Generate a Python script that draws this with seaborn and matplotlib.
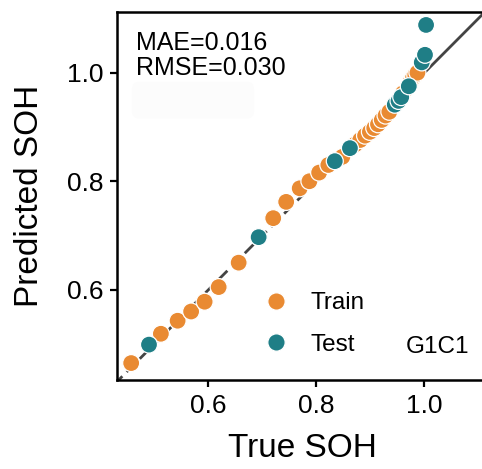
import numpy as np
import pandas as pd
import matplotlib
matplotlib.use("Agg")
import matplotlib.pyplot as plt
from matplotlib.patches import FancyBboxPatch
import seaborn as sns

# True vs. predicted state of health for cell G1C1
train_true = [0.457, 0.512, 0.543, 0.568, 0.593, 0.619, 0.656, 0.720, 0.744, 0.769,
              0.787, 0.805, 0.822, 0.848, 0.872, 0.881, 0.890, 0.899, 0.907, 0.914,
              0.921, 0.928, 0.935, 0.960, 0.975, 0.979, 0.983, 0.987]
train_pred = [0.465, 0.519, 0.543, 0.560, 0.578, 0.605, 0.650, 0.732, 0.762, 0.787,
              0.800, 0.816, 0.830, 0.845, 0.868, 0.876, 0.884, 0.891, 0.898, 0.905,
              0.913, 0.921, 0.928, 0.962, 0.985, 0.991, 0.996, 1.000]
test_true = [0.490, 0.693, 0.834, 0.862, 0.945, 0.952, 0.957, 0.971, 0.995, 1.001, 1.003]
test_pred = [0.499, 0.697, 0.837, 0.861, 0.941, 0.948, 0.955, 0.975, 1.019, 1.033, 1.088]

mae_text = "MAE=0.016"
rmse_text = "RMSE=0.030"
cell_name = "G1C1"
x_ticks = [0.6, 0.8, 1.0]
y_ticks = [0.6, 0.8, 1.0]

df = pd.DataFrame({
    "true": train_true + test_true,
    "pred": train_pred + test_pred,
    "set": ["Train"] * len(train_true) + ["Test"] * len(test_true),
})

sns.set_style("ticks")
plt.rcParams["font.family"] = ["Liberation Sans", "DejaVu Sans"]
plt.rcParams["text.color"] = "black"
plt.rcParams["axes.labelcolor"] = "black"

fig = plt.figure(figsize=(4.82, 4.69), dpi=100)
ax = fig.add_axes([0.243, 0.19, 0.7676, 0.7846])

xlim = (0.431, 1.116)
ylim = (0.434, 1.112)

# identity reference line
ax.plot([0.40, 1.0], [0.40, 1.0], ls=(0, (4.5, 2.2)), color="#444444", lw=2, zorder=1)
ax.plot([1.0, 1.2], [1.0, 1.2], ls="-", color="#444444", lw=2, zorder=1)

palette = {"Train": "#E98A32", "Test": "#1F7E86"}
sns.scatterplot(data=df, x="true", y="pred", hue="set", palette=palette,
                s=150, edgecolor="white", linewidth=0.9, ax=ax, zorder=3)

ax.set_xlim(*xlim)
ax.set_ylim(*ylim)
ax.set_xticks(x_ticks)
ax.set_yticks(y_ticks)
ax.set_xticklabels([f"{t:.1f}" for t in x_ticks])
ax.set_yticklabels([f"{t:.1f}" for t in y_ticks])
ax.tick_params(labelsize=19, width=1.6, length=5, pad=5, color="black",
               labelcolor="black")
ax.set_xlabel("True SOH", fontsize=24, labelpad=11)
ax.set_ylabel("Predicted SOH", fontsize=24, labelpad=16)
for sp in ax.spines.values():
    sp.set_linewidth(1.8)
    sp.set_color("black")

ax.text(0.052, 0.947, mae_text + "\n" + rmse_text, transform=ax.transAxes,
        fontsize=18, va="top", ha="left", linespacing=1.05, color="black")

# faint rounded panel under the metrics
ax.add_patch(FancyBboxPatch((0.06, 0.73), 0.29, 0.06, boxstyle="round,pad=0.02",
                            transform=ax.transAxes, facecolor="#fcfcfc",
                            edgecolor="none", zorder=0))

ax.text(0.952, 0.06, cell_name, transform=ax.transAxes, fontsize=17.5,
        ha="right", va="bottom", color="black")

handles, labels = ax.get_legend_handles_labels()
for h in handles:
    h.set_markersize(12.5)
    h.set_markeredgecolor("white")
leg = ax.legend(handles, labels, loc="lower left", bbox_to_anchor=(0.318, 0.02),
                frameon=False, fontsize=17.5, handletextpad=0.4, labelspacing=0.8,
                borderpad=0.2)
for t in leg.get_texts():
    t.set_color("black")

fig.savefig("out.png", dpi=100)
